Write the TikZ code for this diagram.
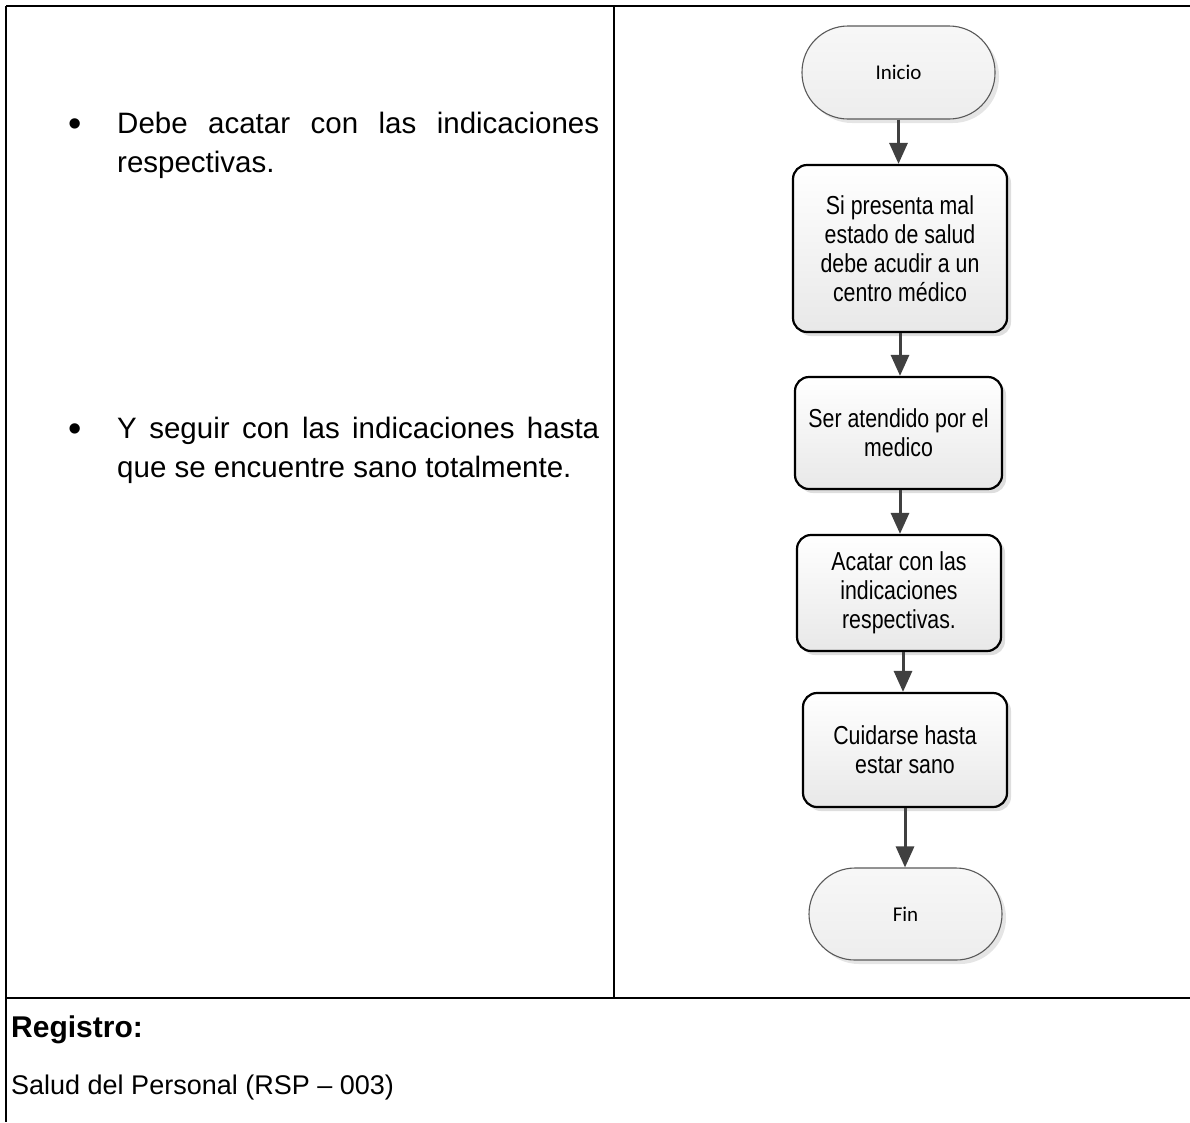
\documentclass[tikz,border=0pt]{standalone}
\usepackage{fontspec}
\setmainfont{Liberation Sans}
\newfontfamily\narrowfont{Liberation Sans}[FakeStretch=0.82]
\newfontfamily\termfont{Carlito}
\usetikzlibrary{arrows.meta,shadows}

\tikzset{
  rule/.style={line width=2.4pt, black},
  procbox/.style={rectangle, rounded corners=14pt, draw=black, line width=2.2pt,
    top color=white, bottom color=black!9, align=center, inner sep=4pt,
    font=\narrowfont\fontsize{26pt}{29pt}\selectfont,
    drop shadow={shadow xshift=4pt, shadow yshift=-4pt, fill=black!13, opacity=1}},
  termbox/.style={rectangle, rounded corners=46pt, draw=black!65, line width=1.1pt,
    top color=white!97!black, bottom color=black!7, align=center,
    minimum width=193pt, minimum height=93pt,
    font=\termfont\fontsize{21pt}{25pt}\selectfont,
    drop shadow={shadow xshift=4pt, shadow yshift=-4pt, fill=black!10, opacity=1}},
  flow/.style={draw=black!75, line width=3pt,
    -{Triangle[length=21pt,width=18pt]}},
  bodytext/.style={anchor=base west, inner sep=0pt, font=\fontsize{29.5pt}{40pt}\selectfont},
  bulletmark/.style={anchor=base west, inner sep=0pt, font=\fontsize{38pt}{40pt}\selectfont},
}

\begin{document}
\begin{tikzpicture}[x=1pt, y=-1pt]
\useasboundingbox (0,0) rectangle (1190,1122);

% table rules
\draw[rule] (6,6) -- (1190,6);
\draw[rule] (6,6) -- (6,1122);
\draw[rule] (614,6) -- (614,998);
\draw[rule] (6,998) -- (1190,998);

% left column: instructions
\node[bulletmark] (b1) at (68,136) {\textbullet};
\node[bodytext] (t1a) at (117,133) {\makebox[482pt][s]{Debe acatar con las indicaciones}};
\node[bodytext] (t1b) at (117,172) {respectivas.};
\node[bulletmark] (b2) at (68,441) {\textbullet};
\node[bodytext] (t2a) at (117,438) {\makebox[482pt][s]{Y seguir con las indicaciones hasta}};
\node[bodytext] (t2b) at (117,477) {que se encuentre sano totalmente.};

% bottom row
\node[anchor=base west, inner sep=0pt, font=\bfseries\fontsize{30pt}{34pt}\selectfont] (reg) at (11,1037) {Registro:};
\node[anchor=base west, inner sep=0pt, font=\fontsize{27pt}{34pt}\selectfont] (rsp) at (11,1094) {Salud del Personal (RSP – 003)};

% flowchart
\node[termbox] (inicio) at (898.5,72.5) {Inicio};
\node[procbox, minimum width=214pt, minimum height=167pt] (s1) at (900,248.5)
  {Si presenta mal\\estado de salud\\debe acudir a un\\centro médico};
\node[procbox, minimum width=207pt, minimum height=112pt] (s2) at (898.5,433)
  {Ser atendido por el\\medico};
\node[procbox, minimum width=204pt, minimum height=116pt] (s3) at (899,593)
  {Acatar con las\\indicaciones\\respectivas.};
\node[procbox, minimum width=204pt, minimum height=114pt] (s4) at (905,750)
  {Cuidarse hasta\\estar sano};
\node[termbox, minimum height=92pt] (fin) at (905.5,914) {Fin};

\draw[flow] (inicio.south) -- (inicio.south |- s1.north);
\draw[flow] (s1.south) -- (s1.south |- s2.north);
\draw[flow] ([xshift=1.5pt]s2.south) -- ([xshift=1.5pt]s2.south |- s3.north);
\draw[flow] ([xshift=4pt]s3.south) -- ([xshift=4pt]s3.south |- s4.north);
\draw[flow] (s4.south) -- (s4.south |- fin.north);
\end{tikzpicture}
\end{document}
